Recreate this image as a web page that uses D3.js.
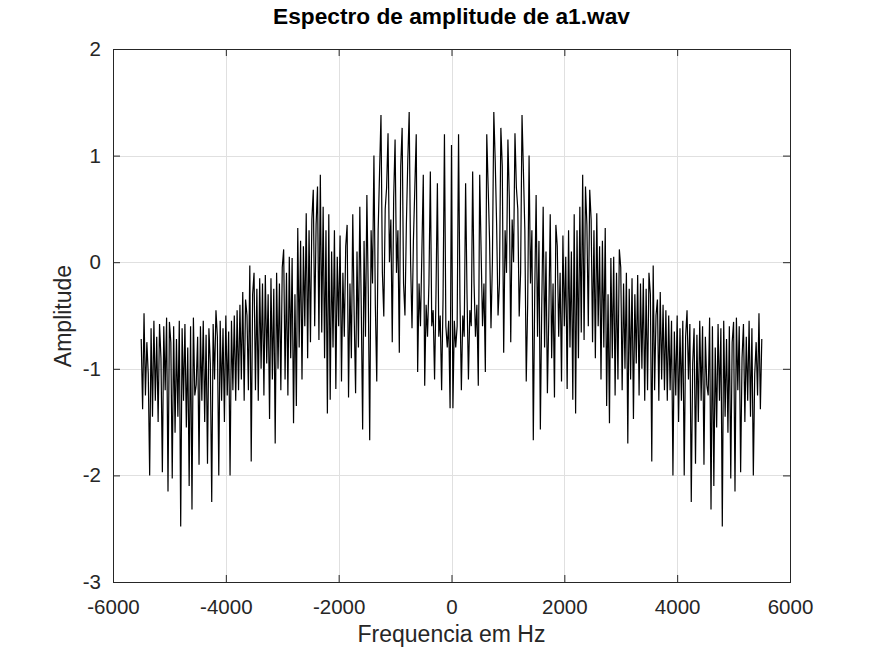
<!DOCTYPE html>
<html>
<head>
<meta charset="utf-8">
<script src="https://cdn.jsdelivr.net/npm/d3@7"></script>
<style>
  body { margin: 0; background: #fff; }
  text { font-family: "Liberation Sans", Arial, sans-serif; }
</style>
</head>
<body>
<div id="chart"></div>
<script>
// Amplitude spectrum bins, 25 Hz apart
const freqStart = -5500;
const freqStep = 25;

// -5500 .. -25 Hz
const ampNeg = [
  -0.72, -1.38, -0.48, -1.25, -0.75, -1.05, -2.0, -0.62, -1.45, -0.55,
  -1.3, -0.7, -1.5, -0.58, -0.9, -1.97, -0.6, -1.2, -0.52, -2.15,
  -0.56, -0.75, -2.03, -0.6, -1.6, -0.72, -1.45, -0.55, -2.48, -0.62,
  -1.3, -0.58, -1.55, -0.8, -2.1, -0.6, -2.32, -0.52, -1.25, -1.15,
  -0.7, -1.9, -0.6, -1.3, -0.55, -1.5, -0.68, -1.89, -0.62, -0.95,
  -2.25, -0.58, -1.1, -0.45, -0.7, -2.0, -0.55, -1.3, -0.62, -1.5,
  -0.5, -1.25, -0.65, -2.0, -0.55, -1.2, -0.5, -1.3, -0.45,
  -1.2, -0.4, -1.1, -0.28, -1.3, -0.35, -0.5, -1.2, -0.03, -1.87,
  -0.3, -0.1, -1.2, -0.25, -1.3, -0.15, -1.0, -0.2, -1.25, -0.12,
  -0.95, -0.3, -1.47, -0.15, -1.1, -0.25, -1.7, -0.1, -1.0, -0.2,
  -1.2, -0.05,
  0.12, -1.1, -0.1, -1.25, 0.05, -0.9, 0.04, -1.51, -0.3, -1.35,
  0.32, -0.8, 0.2, -1.1, 0.15, -0.6, 0.46, -0.9, 0.3, -0.75,
  0.4, 0.68, -0.6, 0.35, 0.71, -0.73, 0.82, -0.66,
  0.52, -0.9, 0.3, -1.42, 0.45, -1.29, 0.1, -0.8, 0.3, -1.19,
  0.05, -0.6, 0.25, -1.12, -0.1, -0.7, 0.15, 0.35, -1.27, -0.2,
  -0.9, 0.45, -0.5, -1.23, 0.1, -0.8, 0.52, -0.4, -1.57, 0.2,
  -0.7, 0.63, -0.3, -1.67, 0.3,
  -0.2, 1.0, -0.4, -1.12, 0.3, 0.85, 1.38, -0.1, -0.51, 0.5,
  0.7, 1.21, 0.0, 0.4, -0.75, 0.6, 1.15, -0.1, 0.3, -0.85,
  0.9, 1.26, -0.2, -0.5, 0.35, 0.95, 1.41, 0.0, -0.62,
  0.2, 0.7, 1.2, -1.03, -0.2, -0.6, 0.1, 0.82, -1.16, -0.4,
  -0.7, -0.2, 0.85, -0.6, -0.45, -1.1, -0.3, 0.74, -0.7, -0.5,
  -1.2, -0.35, 1.2, -0.6, -0.8, -0.55, -1.37
];

// 0 Hz
const ampDC = [1.1];

// 25 .. 5500 Hz
const ampPos = [
  -1.37, -0.55, -0.8, -0.6, 1.2, -0.35, -1.2, -0.5, -0.7, 0.74,
  -0.3, -1.1, -0.45, -0.6, 0.85, -0.2, -0.7, -0.4, -1.16, 0.82,
  0.1, -0.6, -0.2, -1.03, 1.2, 0.7, 0.2,
  -0.62, 0.0, 1.41, 0.95, 0.35, -0.5, -0.2, 1.26, 0.9, -0.85,
  0.3, -0.1, 1.15, 0.6, -0.75, 0.4, 0.0, 1.21, 0.7, 0.5,
  -0.51, -0.1, 1.38, 0.85, 0.3, -1.12, -0.4, 1.0, -0.2,
  0.3, -1.67, -0.3, 0.63, -0.7, 0.2, -1.57, -0.4, 0.52, -0.8,
  0.1, -1.23, -0.5, 0.45, -0.9, -0.2, -1.27, 0.35, 0.15, -0.7,
  -0.1, -1.12, 0.25, -0.6, 0.05, -1.19, 0.3, -0.8, 0.1, -1.29,
  0.45, -1.42, 0.3, -0.9, 0.52,
  -0.66, 0.82, -0.73, 0.71, 0.35, -0.6, 0.68, 0.4, -0.75, 0.3,
  -0.9, 0.46, -0.6, 0.15, -1.1, 0.2, -0.8, 0.32, -1.35, -0.3,
  -1.51, 0.04, -0.9, 0.05, -1.25, -0.1, -1.1, 0.12,
  -0.05, -1.2, -0.2, -1.0, -0.1, -1.7, -0.25, -1.1, -0.15, -1.47,
  -0.3, -0.95, -0.12, -1.25, -0.2, -1.0, -0.15, -1.3, -0.25, -1.2,
  -0.1, -0.3, -1.87, -0.03, -1.2, -0.5, -0.35, -1.3, -0.28, -1.1,
  -0.4, -1.2,
  -0.45, -1.3, -0.5, -1.2, -0.55, -2.0, -0.65, -1.25, -0.5, -1.5,
  -0.62, -1.3, -0.55, -2.0, -0.7, -0.45, -1.1, -0.58, -2.25, -0.95,
  -0.62, -1.89, -0.68, -1.5, -0.55, -1.3, -0.6, -1.9, -0.7, -1.15,
  -1.25, -0.52, -2.32, -0.6, -2.1, -0.8, -1.55, -0.58, -1.3, -0.62,
  -2.48, -0.55, -1.45, -0.72, -1.6, -0.6, -2.03, -0.75, -0.56, -2.15,
  -0.52, -1.2, -0.6, -1.97, -0.9, -0.58, -1.5, -0.7, -1.3, -0.55,
  -1.45, -0.62, -2.0, -1.05, -0.75, -1.25, -0.48, -1.38, -0.72
];

const xTicks = [-6000, -4000, -2000, 0, 2000, 4000, 6000];
const yTicks = [-3, -2, -1, 0, 1, 2];

const titleText = "Espectro de amplitude de a1.wav";
const xLabelText = "Frequencia em Hz";
const yLabelText = "Amplitude";

const width = 872, height = 654;
const margin = { top: 49, right: 82, bottom: 72, left: 113 };
const innerW = width - margin.left - margin.right;
const innerH = height - margin.top - margin.bottom;

const amp = ampNeg.concat(ampDC, ampPos);
const points = amp.map((a, i) => ({ f: freqStart + i * freqStep, a: a }));

// plain labels like Octave: "-6000", "2"
const plain = d => String(d);

const svg = d3.select("#chart")
  .append("svg")
  .attr("width", width)
  .attr("height", height);

svg.append("rect")
  .attr("width", width)
  .attr("height", height)
  .attr("fill", "#fff");

const x = d3.scaleLinear().domain([-6000, 6000]).range([0, innerW]);
const y = d3.scaleLinear().domain([-3, 2]).range([innerH, 0]);

const g = svg.append("g")
  .attr("transform", `translate(${margin.left},${margin.top})`);

// Grid lines
const gridColor = "#e0e0e0";

g.append("g")
  .attr("class", "grid")
  .attr("transform", `translate(0,${innerH})`)
  .call(d3.axisBottom(x).tickValues(xTicks).tickSize(-innerH).tickFormat(""));

g.append("g")
  .attr("class", "grid")
  .call(d3.axisLeft(y).tickValues(yTicks).tickSize(-innerW).tickFormat(""));

g.selectAll(".grid line")
  .attr("stroke", gridColor)
  .attr("shape-rendering", "crispEdges");

// Spectrum line
const line = d3.line()
  .x(d => x(d.f))
  .y(d => y(d.a));

g.append("path")
  .datum(points)
  .attr("fill", "none")
  .attr("stroke", "#000")
  .attr("stroke-width", 1.2)
  .attr("d", line);

// Axes with inward ticks on all four sides
const tickLen = 7;

const xAxis = g.append("g")
  .attr("class", "axis")
  .attr("transform", `translate(0,${innerH})`)
  .call(d3.axisBottom(x).tickValues(xTicks).tickSize(-tickLen).tickPadding(17).tickFormat(plain));

const yAxis = g.append("g")
  .attr("class", "axis")
  .call(d3.axisLeft(y).tickValues(yTicks).tickSize(-tickLen).tickPadding(12).tickFormat(plain));

g.append("g")
  .attr("class", "axis")
  .call(d3.axisTop(x).tickValues(xTicks).tickSize(-tickLen).tickFormat(""));

g.append("g")
  .attr("class", "axis")
  .attr("transform", `translate(${innerW},0)`)
  .call(d3.axisRight(y).tickValues(yTicks).tickSize(-tickLen).tickFormat(""));

g.selectAll(".domain").remove();
g.selectAll(".axis line").attr("stroke", "#262626");

[xAxis, yAxis].forEach(ax => {
  ax.selectAll("text")
    .attr("fill", "#262626")
    .style("font-size", "20.5px")
    .style("font-family", "'Liberation Sans', Arial, sans-serif");
});

// Box
g.append("rect")
  .attr("x", 0)
  .attr("y", 0)
  .attr("width", innerW)
  .attr("height", innerH)
  .attr("fill", "none")
  .attr("stroke", "#262626")
  .attr("stroke-width", 1)
  .attr("shape-rendering", "crispEdges");

// Title and axis labels
svg.append("text")
  .attr("x", margin.left + innerW / 2)
  .attr("y", 24)
  .attr("text-anchor", "middle")
  .attr("font-weight", "bold")
  .attr("font-size", "22.7px")
  .attr("fill", "#000")
  .text(titleText);

svg.append("text")
  .attr("x", margin.left + innerW / 2)
  .attr("y", 642)
  .attr("text-anchor", "middle")
  .attr("font-size", "23px")
  .attr("fill", "#262626")
  .text(xLabelText);

svg.append("text")
  .attr("transform", `translate(71,${margin.top + innerH / 2 + 0.5}) rotate(-90)`)
  .attr("text-anchor", "middle")
  .attr("font-size", "23px")
  .attr("fill", "#262626")
  .text(yLabelText);
</script>
</body>
</html>
